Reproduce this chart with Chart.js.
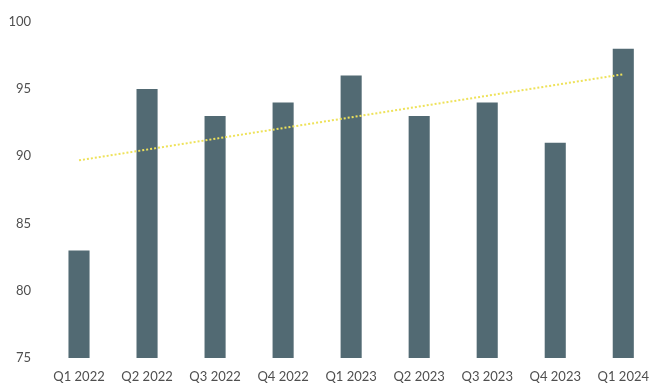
<!DOCTYPE html>
<html>
<head>
<meta charset="utf-8">
<script src="https://cdn.jsdelivr.net/npm/chart.js@4"></script>
<style>
html,body{margin:0;padding:0;background:#fff;overflow:hidden;}
#wrap{position:absolute;left:0;top:0;width:660px;height:387px;}
</style>
</head>
<body>
<div id="wrap"><canvas id="c"></canvas></div>
<script>
const categories = ["Q1 2022","Q2 2022","Q3 2022","Q4 2022","Q1 2023","Q2 2023","Q3 2023","Q4 2023","Q1 2024"];
const scores = [83, 95, 93, 94, 96, 93, 94, 91, 98];
const trend = [89.7, null, null, null, null, null, null, null, 96.1];
const yTicks = [75, 80, 85, 90, 95, 100];

new Chart(document.getElementById('c'), {
  type: 'bar',
  data: {
    labels: categories,
    datasets: [
      {
        type: 'line',
        data: trend,
        borderColor: '#eee25a',
        borderWidth: 2,
        borderDash: [2, 2],
        pointRadius: 0,
        fill: false,
        spanGaps: true,
        order: 0
      },
      {
        type: 'bar',
        data: scores,
        backgroundColor: '#526a73',
        categoryPercentage: 1,
        barPercentage: 0.31,
        order: 1
      }
    ]
  },
  options: {
    responsive: true,
    maintainAspectRatio: false,
    animation: false,
    layout: { padding: { left: 8, right: 0, top: 14, bottom: 2 } },
    plugins: { legend: { display: false }, tooltip: { enabled: false } },
    scales: {
      x: {
        offset: true,
        afterFit: (scale) => { scale.height = 27; },
        grid: { display: false, drawTicks: false },
        border: { display: false },
        ticks: { color: '#4f4f4f', font: { family: 'Lato', size: 13 }, padding: 11, maxRotation: 0 }
      },
      y: {
        min: 75,
        max: 100,
        afterBuildTicks: (scale) => { scale.ticks = yTicks.map(v => ({ value: v })); },
        afterFit: (scale) => { scale.width = 37; },
        grid: { display: false, drawTicks: false },
        border: { display: false },
        ticks: { color: '#4f4f4f', font: { family: 'Lato', size: 13 }, padding: 14 }
      }
    }
  }
});
</script>
</body>
</html>
